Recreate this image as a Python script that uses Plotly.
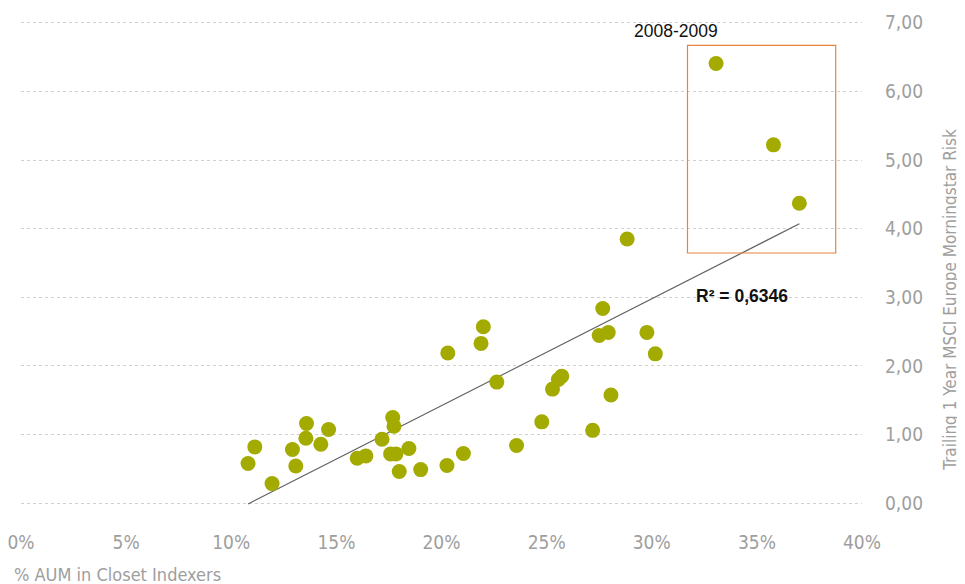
import numpy as np
import plotly.graph_objects as go

# % AUM in closet indexers (x) and trailing 1-year MSCI Europe Morningstar risk (y)
aum_pct = [10.80, 11.12, 11.94, 12.91, 13.07, 13.55, 13.58, 14.26, 14.63, 15.99,
           16.40, 17.17, 17.68, 17.74, 17.58, 17.83, 17.99, 18.45, 19.01, 20.26,
           20.30, 21.04, 21.88, 21.99, 22.63, 23.57, 24.77, 25.28, 25.56, 25.72,
           27.19, 27.50, 27.67, 27.93, 28.06, 28.83, 29.77, 30.17, 33.06, 35.79,
           37.02]
risk = [0.579, 0.821, 0.287, 0.783, 0.544, 0.948, 1.162, 0.860, 1.075, 0.656,
        0.690, 0.933, 1.250, 1.123, 0.719, 0.719, 0.462, 0.798, 0.491, 0.550,
        2.188, 0.725, 2.329, 2.571, 1.765, 0.841, 1.186, 1.663, 1.804, 1.852,
        1.062, 2.443, 2.837, 2.487, 1.578, 3.850, 2.489, 2.177, 6.407, 5.221,
        4.371]

x_ticks = [0, 5, 10, 15, 20, 25, 30, 35, 40]
x_tick_labels = ["0%", "5%", "10%", "15%", "20%", "25%", "30%", "35%", "40%"]
y_ticks = [0, 1, 2, 3, 4, 5, 6, 7]

r2_label = "R² = 0,6346"
period_label = "2008-2009"
box_x = [31.70, 38.75]
box_y = [3.646, 6.669]

x_title = "% AUM in Closet Indexers"
y_title = "Trailing 1 Year MSCI Europe Morningstar Risk"

# linear trend line through the data
xa = np.array(aum_pct)
ya = np.array(risk)
slope, intercept = np.polyfit(xa, ya, 1)
trend_x = [xa.min(), xa.max()]
trend_y = [slope * v + intercept for v in trend_x]

AXFONT = "DejaVu Sans Condensed, DejaVu Sans, sans-serif"
GREY = "#9E9E9E"

fig = go.Figure()
fig.add_trace(go.Scatter(x=trend_x, y=trend_y, mode="lines",
                         line=dict(color="#5F5F5F", width=1.2),
                         hoverinfo="skip", showlegend=False))
fig.add_trace(go.Scatter(x=aum_pct, y=risk, mode="markers",
                         marker=dict(color="#A3AB00", size=15, line=dict(width=0)),
                         showlegend=False))

fig.add_shape(type="rect", xref="x", yref="y",
              x0=box_x[0], x1=box_x[1], y0=box_y[0], y1=box_y[1],
              line=dict(color="#E5843F", width=1.2))

fig.add_annotation(x=31.14, y=6.88, xref="x", yref="y", text=period_label,
                   showarrow=False, font=dict(family="Liberation Sans, Arial", size=17.5, color="#111111"))
fig.add_annotation(x=34.29, y=3.02, xref="x", yref="y", text="<b>" + r2_label + "</b>",
                   showarrow=False, font=dict(family="Liberation Sans, Arial", size=17.5, color="#111111"))

fig.add_annotation(x=-0.011, y=-0.1446, xref="paper", yref="paper", text=x_title,
                   showarrow=False, xanchor="left", yanchor="middle",
                   font=dict(family=AXFONT, size=18, color=GREY))
fig.add_annotation(x=1.1045, y=0.4236, xref="paper", yref="paper", text=y_title,
                   textangle=-90, showarrow=False, xanchor="center", yanchor="middle",
                   font=dict(family=AXFONT, size=17, color=GREY))

fig.update_layout(
    width=957, height=576,
    margin=dict(l=13, r=103, t=13, b=79),
    paper_bgcolor="white", plot_bgcolor="white",
    separators=",.",
    showlegend=False,
    xaxis=dict(range=[0, 40], tickvals=x_ticks, ticktext=x_tick_labels,
               showgrid=False, zeroline=False, showline=False, ticks="",
               automargin=False, ticklabeloverflow="allow",
               ticklabelstandoff=24,
               tickfont=dict(family=AXFONT, size=19, color=GREY)),
    yaxis=dict(range=[-0.025, 7.025], tickvals=y_ticks, tickformat=".2f", side="right",
               showgrid=True, gridcolor="#D0D0D0", griddash="dot", gridwidth=1,
               zeroline=False, showline=False, ticks="",
               automargin=False, ticklabeloverflow="allow",
               ticklabelstandoff=22,
               tickfont=dict(family=AXFONT, size=19, color=GREY)),
)

fig.write_html("out.html")
